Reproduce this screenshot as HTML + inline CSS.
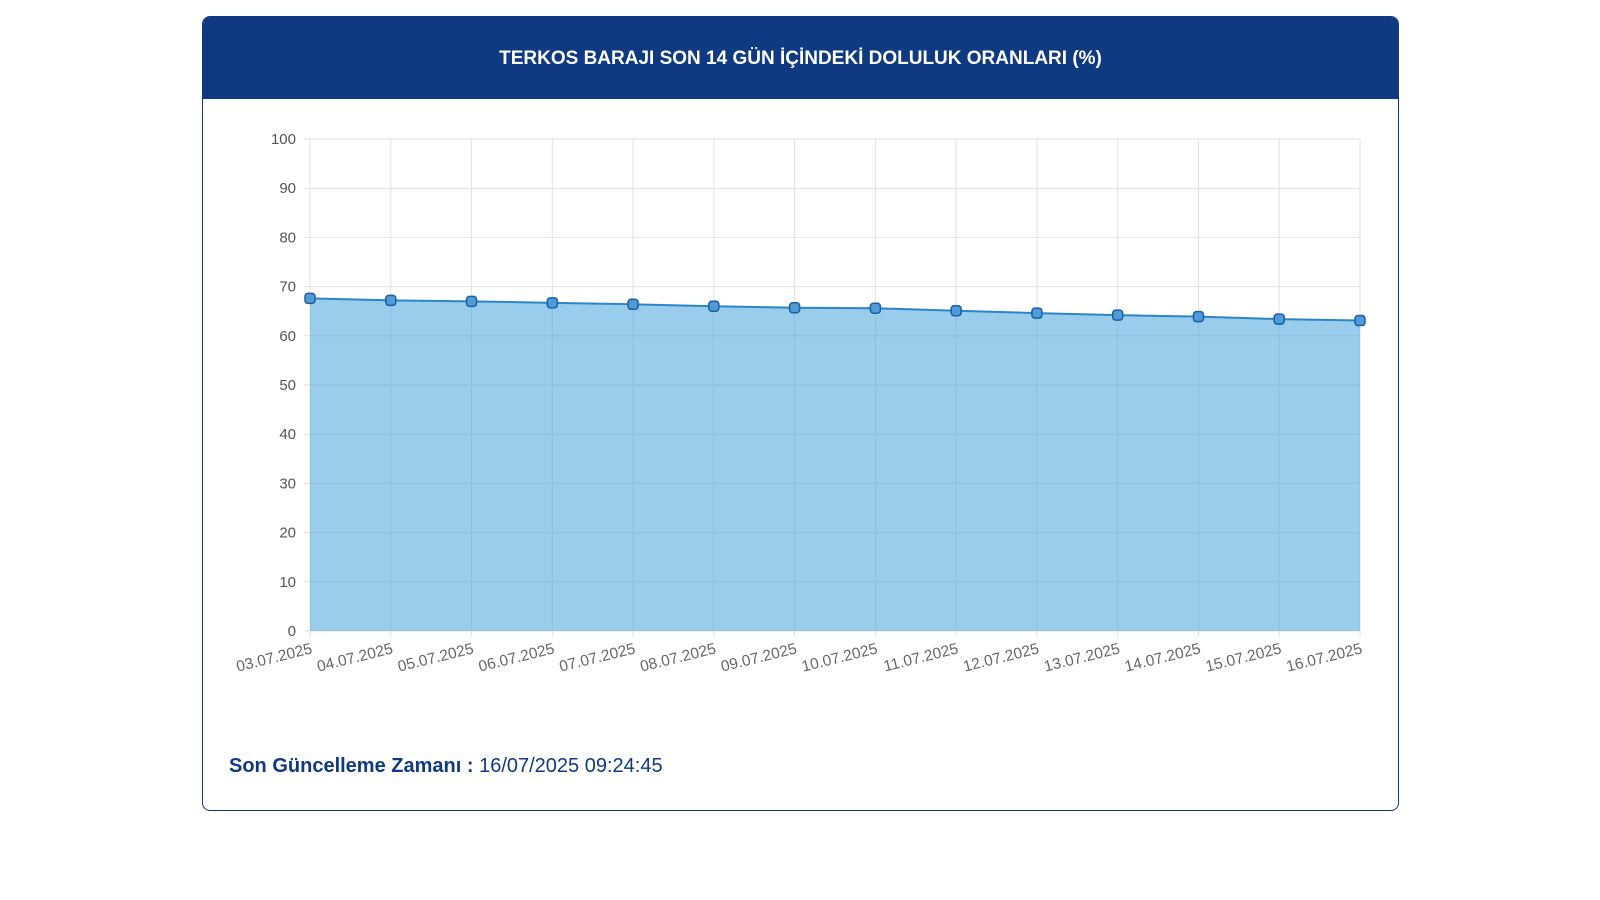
<!DOCTYPE html>
<html><head><meta charset="utf-8"><style>
body{margin:0;width:1600px;height:900px;background:#fff;font-family:"Liberation Sans",sans-serif;position:relative;overflow:hidden}
.card{position:absolute;left:202px;top:16px;width:1197px;height:795px;border:1px solid #0f3a80;border-radius:8px;box-sizing:border-box;overflow:hidden}
.hdr{height:82px;background:#0f3a82;color:#fff;font-weight:bold;font-size:19px;text-align:center;line-height:84px}
.foot{position:absolute;left:26px;top:738px;font-size:20px;color:#0f3a80}
.foot b{font-weight:bold}
svg{position:absolute;left:0;top:0}
</style></head><body>
<div class="card">
<div class="hdr">TERKOS BARAJI SON 14 GÜN İÇİNDEKİ DOLULUK ORANLARI (%)</div>
<div class="foot"><b>Son Güncelleme Zamanı :</b> 16/07/2025 09:24:45</div>
</div>
<svg id="c" width="1600" height="900"></svg>
<script>
const categories=["03.07.2025","04.07.2025","05.07.2025","06.07.2025","07.07.2025","08.07.2025","09.07.2025","10.07.2025","11.07.2025","12.07.2025","13.07.2025","14.07.2025","15.07.2025","16.07.2025"];
const values=[67.6,67.2,67.0,66.7,66.4,66.0,65.7,65.6,65.1,64.6,64.2,63.9,63.4,63.1];
const yTicks=[0,10,20,30,40,50,60,70,80,90,100];
const svg=document.getElementById('c'),NS='http://www.w3.org/2000/svg';
const L=310,R=1360,T=139,B=631;
const x=i=>L+(R-L)*i/(categories.length-1);
const y=v=>B-(B-T)*v/100;
function mk(t,a,p){const e=document.createElementNS(NS,t);for(const k in a)e.setAttribute(k,a[k]);(p||svg).appendChild(e);return e;}
yTicks.forEach(v=>{
 const l=mk('line',{x1:L-6,x2:R,y1:y(v),y2:y(v),stroke:'#e2e2e2'});
 
 
 const t=mk('text',{x:L-14,y:y(v)+5,'text-anchor':'end','font-size':15,fill:'#555','font-family':'Liberation Sans, sans-serif'});
 t.textContent=v;
 
 
});
categories.forEach((c,i)=>{
 const l=mk('line',{x1:x(i),x2:x(i),y1:T,y2:B+6,stroke:'#e2e2e2'});
 
 
 const t=mk('text',{x:x(i)+3,y:B+22,'text-anchor':'end','font-size':15.5,fill:'#666','font-family':'Liberation Sans, sans-serif',transform:`rotate(-14 ${x(i)+3} ${B+22})`});
 t.textContent=c;
 
 
});
let d=`M${x(0)},${B}`;values.forEach((v,i)=>d+=`L${x(i)},${y(v)}`);d+=`L${x(values.length-1)},${B}Z`;
const area=mk('path',{d,fill:'rgba(54,155,218,0.5)'});


const line=mk('polyline',{points:values.map((v,i)=>x(i)+','+y(v)).join(' '),fill:'none',stroke:'#2a86c8','stroke-width':2});


values.forEach((v,i)=>{
 const p=mk('rect',{x:x(i)-5,y:y(v)-5,width:10,height:10,rx:3,fill:'#4f9ad8',stroke:'#1d5fa0','stroke-width':1.5});
 
 
});
</script>
</body></html>
